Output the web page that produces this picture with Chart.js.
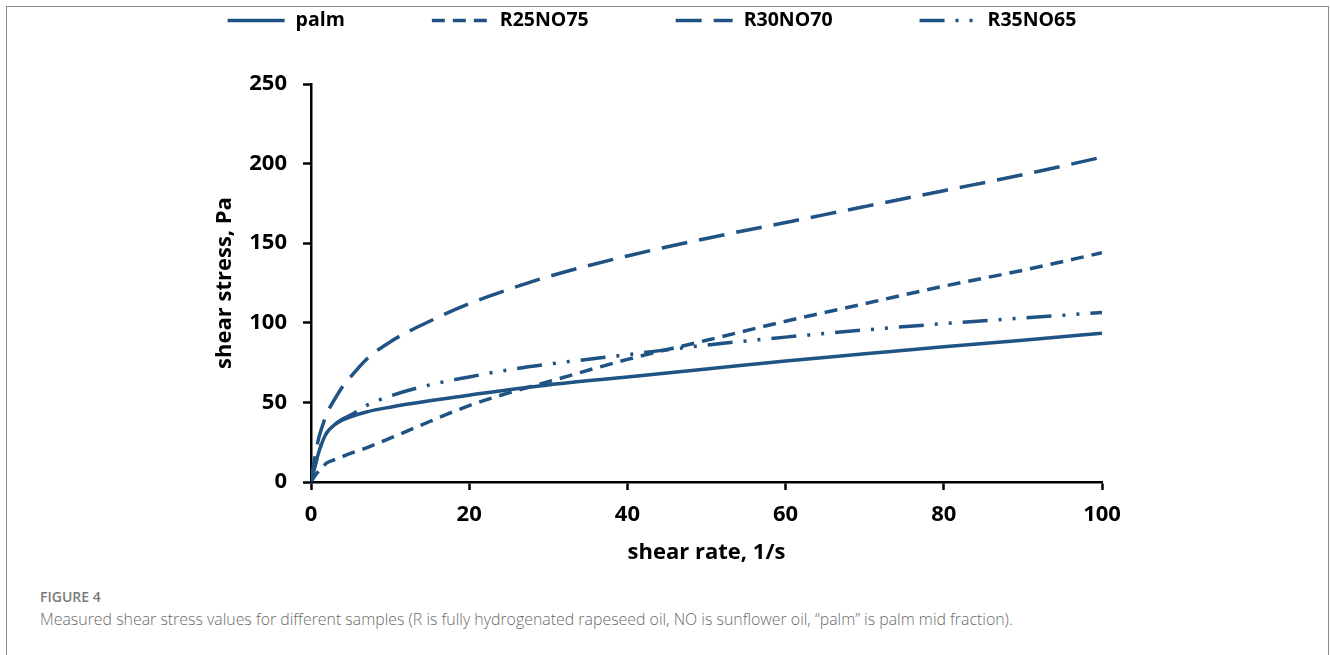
<!DOCTYPE html>
<html>
<head>
<meta charset="utf-8">
<script src="https://cdn.jsdelivr.net/npm/chart.js@4.4.1/dist/chart.umd.min.js"></script>
<style>
  html, body { margin: 0; padding: 0; background: #fff; }
  body { width: 1330px; height: 655px; position: relative; overflow: hidden; font-family: "Open Sans", sans-serif; }
  #frame { position: absolute; left: 6px; top: 6px; width: 1321px; height: 700px; border: 1.5px solid #8c8c8c; border-bottom: none; }
  #chart { position: absolute; left: 0; top: 0; }
  #figlabel { position: absolute; left: 40px; top: 587px; font-size: 14px; font-weight: 600; color: #7a7a7a; }
  #caption { position: absolute; left: 40px; top: 608px; font-size: 15.9px; font-weight: 300; color: #6a6a6a; white-space: nowrap; }
</style>
</head>
<body>
<div id="frame"></div>
<canvas id="chart" width="1330" height="575"></canvas>
<div id="figlabel">FIGURE 4</div>
<div id="caption">Measured shear stress values for different samples (R is fully hydrogenated rapeseed oil, NO is sunflower oil, “palm” is palm mid fraction).</div>
<script>
// shear rate, 1/s
const shearRate = [0, 0.5, 1, 1.5, 2, 3, 4, 5, 7, 10, 15, 20, 25, 30, 40, 50, 60, 70, 80, 90, 100];
// shear stress, Pa
const palm     = [0, 10, 19, 26, 31, 36, 39, 41, 44, 47, 51, 54.5, 58, 61, 66, 71, 76, 80.5, 85, 89, 93.5];
const r25no75  = [0, 4, 7, 9.5, 12, 14, 16, 18, 21.5, 27.5, 38, 48, 56, 63, 77, 89, 101, 112, 123, 133, 144];
const r30no70  = [0, 16, 28, 36, 43, 52, 60, 66, 77, 88, 101, 112, 121, 129, 142, 153, 163, 173, 183, 193, 204];
const r35no65  = [0, 10, 19, 26, 31, 36, 39.5, 42, 48, 54, 61, 66, 70.5, 74, 80, 86, 91, 95.5, 99.5, 103, 106.5];

const seriesNames = ["palm", "R25NO75", "R30NO70", "R35NO65"];
const xTicks = [0, 20, 40, 60, 80, 100];
const yTicks = [0, 50, 100, 150, 200, 250];

const blue = "#1f5383";
const dashes = [[], [13, 8], [26, 12], [25, 11, 3, 11, 3, 11]];

function pts(vals) {
  return shearRate.map((x, i) => ({ x: x, y: vals[i] }));
}

const datasets = [palm, r25no75, r30no70, r35no65].map((vals, i) => ({
  label: seriesNames[i],
  data: pts(vals),
  borderColor: blue,
  backgroundColor: blue,
  borderWidth: 3.5,
  borderDash: dashes[i],
  borderCapStyle: "butt",
  pointRadius: 0,
  cubicInterpolationMode: "monotone",
  fill: false
}));

const bold = { family: "'Open Sans', sans-serif", weight: "bold" };

// legend in one row above the plot, line samples keep each dataset's dash
const lineLegend = {
  id: "lineLegend",
  afterDraw(chart) {
    const ctx = chart.ctx;
    const sample = 57, gap = 11, spacing = 87, cy = 20.5;
    ctx.save();
    ctx.font = "bold 19.5px 'Open Sans', sans-serif";
    const widths = chart.data.datasets.map(d => sample + gap + ctx.measureText(d.label).width);
    const total = widths.reduce((a, b) => a + b, 0) + spacing * (widths.length - 1);
    let x = 652 - total / 2;
    chart.data.datasets.forEach((d, i) => {
      ctx.beginPath();
      ctx.setLineDash(d.borderDash);
      ctx.lineWidth = d.borderWidth;
      ctx.lineCap = d.borderCapStyle;
      ctx.strokeStyle = d.borderColor;
      ctx.moveTo(x, cy);
      ctx.lineTo(x + sample, cy);
      ctx.stroke();
      ctx.setLineDash([]);
      ctx.fillStyle = "#000";
      ctx.textBaseline = "middle";
      ctx.textAlign = "left";
      ctx.fillText(d.label, x + sample + gap, cy);
      x += widths[i] + spacing;
    });
    ctx.restore();
  }
};

new Chart(document.getElementById("chart"), {
  type: "line",
  data: { datasets: datasets },
  plugins: [lineLegend],
  options: {
    responsive: false,
    animation: false,
    devicePixelRatio: 1,
    layout: { padding: { left: 202, right: 228, top: 84, bottom: 0 } },
    plugins: {
      tooltip: { enabled: false },
      legend: { display: false }
    },
    scales: {
      x: {
        type: "linear",
        min: 0,
        max: 100,
        afterFit: s => { s.height = 93; },
        afterBuildTicks: s => { s.ticks = xTicks.map(v => ({ value: v })); },
        border: { display: true, color: "#000", width: 2.5 },
        grid: { drawOnChartArea: false, drawTicks: true, tickLength: 8, tickColor: "#000", tickWidth: 2.5 },
        ticks: { color: "#000", font: { ...bold, size: 22 }, padding: 12, maxRotation: 0 },
        title: { display: true, text: "shear rate, 1/s", color: "#000", font: { ...bold, size: 22 }, padding: { top: 0, bottom: 9 } }
      },
      y: {
        min: 0,
        max: 250,
        afterFit: s => { s.width = 109; },
        afterBuildTicks: s => { s.ticks = yTicks.map(v => ({ value: v })); },
        border: { display: true, color: "#000", width: 2.5 },
        grid: { drawOnChartArea: false, drawTicks: true, tickLength: 8, tickColor: "#000", tickWidth: 2.5 },
        ticks: { color: "#000", font: { ...bold, size: 22 }, padding: 16 },
        title: { display: true, text: "shear stress, Pa", color: "#000", font: { ...bold, size: 22 }, padding: { top: 10, bottom: 0 } }
      }
    }
  }
});
</script>
</body>
</html>
